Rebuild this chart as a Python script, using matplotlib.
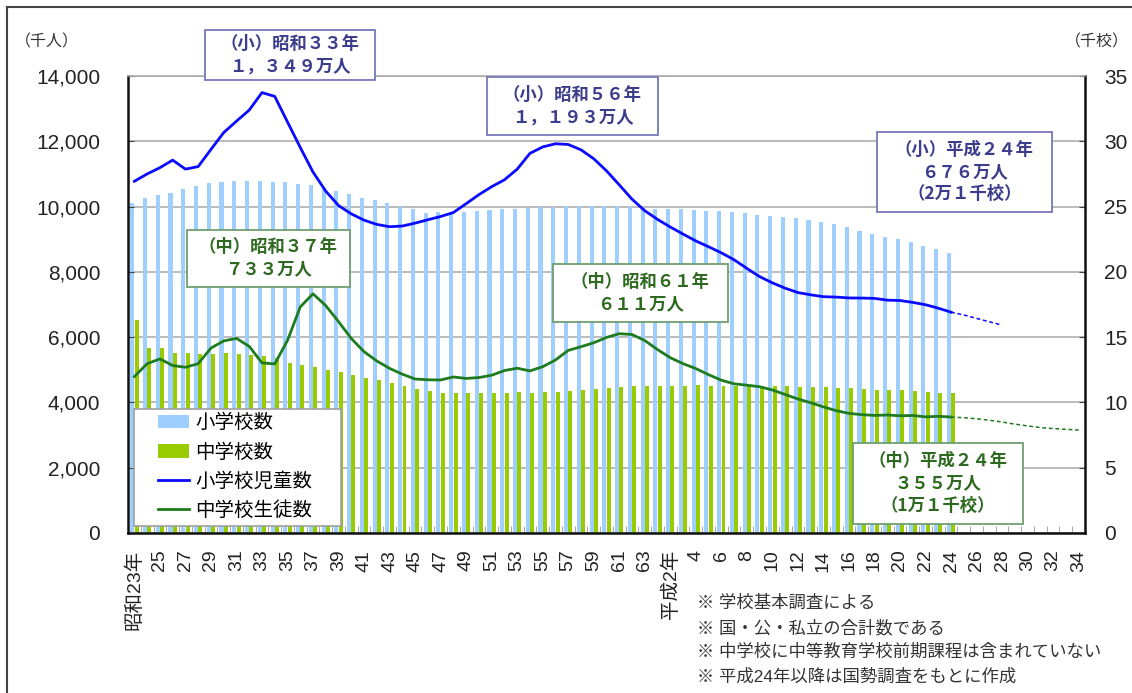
import matplotlib
matplotlib.use("Agg")
import numpy as np
import matplotlib.pyplot as plt
from matplotlib.patches import Patch, Rectangle
from matplotlib.lines import Line2D
from matplotlib.ticker import FuncFormatter

plt.rcParams["font.family"] = ["Liberation Sans", "Noto Sans CJK JP", "DejaVu Sans"]

# 昭和23年(1948) ~ 平成34年(2022)
years = list(range(1948, 2023))
tick_labels = ["昭和23年", "25", "27", "29", "31", "33", "35", "37", "39", "41",
               "43", "45", "47", "49", "51", "53", "55", "57", "59", "61", "63",
               "平成2年", "4", "6", "8", "10", "12", "14", "16", "18", "20", "22",
               "24", "26", "28", "30", "32", "34"]

# 学校数 (千校) 1948-2012
elem_schools = [25.24, 25.64, 25.88, 26.06, 26.38, 26.56, 26.80, 26.88, 26.96, 26.99,
                26.96, 26.92, 26.86, 26.74, 26.62, 26.42, 26.21, 25.98, 25.69, 25.49,
                25.26, 24.99, 24.79, 24.54, 24.62, 24.59, 24.61, 24.65, 24.72, 24.78,
                24.83, 24.90, 24.95, 24.99, 25.04, 25.05, 25.06, 25.04, 25.04, 24.98,
                24.90, 24.85, 24.83, 24.80, 24.73, 24.68, 24.64, 24.55, 24.48, 24.38,
                24.30, 24.19, 24.11, 23.96, 23.81, 23.63, 23.42, 23.12, 22.88, 22.69,
                22.48, 22.26, 22.00, 21.72, 21.46]
jhs_schools = [16.29, 14.20, 14.17, 13.75, 13.75, 13.69, 13.69, 13.77, 13.72, 13.62,
               13.58, 13.37, 12.99, 12.85, 12.69, 12.50, 12.34, 12.08, 11.85, 11.68,
               11.46, 11.28, 11.04, 10.84, 10.75, 10.72, 10.71, 10.75, 10.72, 10.72,
               10.78, 10.75, 10.78, 10.81, 10.88, 10.95, 11.05, 11.13, 11.19, 11.23,
               11.27, 11.26, 11.28, 11.29, 11.30, 11.29, 11.29, 11.27, 11.26, 11.26,
               11.24, 11.22, 11.21, 11.19, 11.16, 11.13, 11.10, 11.04, 10.99, 10.96,
               10.92, 10.86, 10.82, 10.75, 10.70]

# 児童・生徒数 (千人) 1948-2012
elem_students = [10775, 11000, 11191, 11423, 11148, 11225, 11750, 12267, 12616, 12956,
                 13492, 13375, 12591, 11811, 11057, 10471, 10031, 9776, 9584, 9453,
                 9383, 9404, 9493, 9596, 9696, 9817, 10089, 10365, 10609, 10820,
                 11146, 11630, 11827, 11925, 11902, 11739, 11465, 11095, 10665, 10227,
                 9873, 9607, 9373, 9157, 8947, 8769, 8583, 8370, 8106, 7855,
                 7663, 7500, 7366, 7297, 7239, 7227, 7201, 7197, 7188, 7133,
                 7122, 7064, 6993, 6887, 6765]
jhs_students = [4793, 5186, 5333, 5130, 5077, 5187, 5665, 5884, 5963, 5718,
                5210, 5180, 5900, 6926, 7328, 6964, 6476, 5957, 5555, 5270,
                5043, 4865, 4717, 4694, 4688, 4780, 4735, 4762, 4833, 4977,
                5048, 4966, 5094, 5300, 5594, 5706, 5828, 5990, 6106, 6081,
                5896, 5619, 5369, 5188, 5037, 4850, 4681, 4570, 4528, 4481,
                4381, 4244, 4104, 3992, 3863, 3748, 3664, 3626, 3602, 3615,
                3592, 3600, 3558, 3574, 3553]

# 推計 (平成25年以降)
elem_students_est = [6680, 6575, 6470, 6370]
jhs_students_est = [3530, 3500, 3455, 3400, 3335, 3280, 3230, 3200, 3175, 3155]

legend_labels = ["小学校数", "中学校数", "小学校児童数", "中学校生徒数"]
callouts = ["（小）昭和３３年\n１，３４９万人",
            "（小）昭和５６年\n１，１９３万人",
            "（小）平成２４年\n６７６万人\n（2万１千校）",
            "（中）昭和３７年\n７３３万人",
            "（中）昭和６１年\n６１１万人",
            "（中）平成２４年\n３５５万人\n（1万１千校）"]
notes = ["※ 学校基本調査による",
         "※ 国・公・私立の合計数である",
         "※ 中学校に中等教育学校前期課程は含まれていない",
         "※ 平成24年以降は国勢調査をもとに作成"]

W, H = 1132, 693
C_ELEM_BAR = "#9fcfff"
C_JHS_BAR = "#99cc00"
C_ELEM = "#0a0aff"
C_JHS = "#1e7b1e"


def fx(px):
    return px / W


def fy(py):
    return 1 - py / H


fig = plt.figure(figsize=(W / 100, H / 100), dpi=100)
ax = fig.add_axes([fx(128), fy(533), (1085 - 128) / W, (533 - 76) / H])
ax2 = ax.twinx()
ax.set_zorder(ax2.get_zorder() + 1)
ax.patch.set_visible(False)

idx = np.arange(len(elem_schools))
ax2.bar(idx - 0.17, elem_schools, width=0.32, color=C_ELEM_BAR, zorder=2)
ax2.bar(idx + 0.17, jhs_schools, width=0.31, color=C_JHS_BAR, zorder=2)
ax2.set_ylim(0, 35)
ax2.set_yticks(range(0, 36, 5))
ax2.yaxis.grid(True, color="#a8a8a8", lw=1.1)
ax2.set_axisbelow(True)
ax2.tick_params(axis="y", direction="in", length=4, labelsize=15, pad=14,
                colors="#222", color="#444")
for s in ax2.spines.values():
    s.set_visible(False)

# 児童・生徒数の線
ax.plot(idx, elem_students, color=C_ELEM, lw=2.0, zorder=3)
ax.plot(idx, jhs_students, color=C_JHS, lw=2.0, zorder=3)
last = len(elem_students) - 1
ax.plot(np.arange(last, last + len(elem_students_est) + 1),
        [elem_students[-1]] + elem_students_est,
        color=C_ELEM, lw=1.1, ls=(0, (2.5, 1.8)), zorder=3)
ax.plot(np.arange(last, last + len(jhs_students_est) + 1),
        [jhs_students[-1]] + jhs_students_est,
        color=C_JHS, lw=1.1, ls=(0, (2.5, 1.8)), zorder=3)

ax.set_xlim(-0.5, len(years) - 0.5)
ax.set_ylim(0, 14000)
ax.set_yticks(range(0, 14001, 2000))
ax.yaxis.set_major_formatter(FuncFormatter(lambda v, p: f"{int(v):,}"))
ax.tick_params(axis="y", direction="in", length=4, labelsize=15, pad=20,
               colors="#222", color="#444")
ax.set_xticks(range(0, len(years), 2))
ax.set_xticklabels(tick_labels, rotation=90, fontsize=14, color="#222")
ax.set_xticks(np.arange(0.5, len(years) - 1, 1), minor=True)
ax.tick_params(axis="x", which="major", length=0, pad=12)
ax.tick_params(axis="x", which="minor", direction="in", length=5, color="#999")
for side in ["left", "bottom", "right"]:
    ax.spines[side].set_color("#111")
    ax.spines[side].set_linewidth(1.8)
ax.spines["top"].set_color("#a8a8a8")
ax.spines["top"].set_linewidth(1.1)

# 凡例
fig.add_artist(Rectangle((fx(134), fy(526)), (341 - 134) / W, (526 - 409) / H,
                         transform=fig.transFigure, fc="white", ec="#a0a0a0",
                         lw=1.2, zorder=4))
handles = [Patch(fc=C_ELEM_BAR), Patch(fc=C_JHS_BAR),
           Line2D([], [], color=C_ELEM, lw=2), Line2D([], [], color=C_JHS, lw=2)]
fig.legend(handles, legend_labels, loc="upper left",
           bbox_to_anchor=(fx(158), fy(414)), bbox_transform=fig.transFigure,
           frameon=False, fontsize=14, handlelength=1.6, handletextpad=0.3,
           labelspacing=0.55, borderpad=0, borderaxespad=0)

# 吹き出し
boxes = [(205, 30, 375, 80), (487, 77, 658, 135), (877, 132, 1052, 212),
         (187, 230, 350, 287), (553, 264, 728, 322), (853, 443, 1023, 524)]
for i, (txt, (x0, y0, x1, y1)) in enumerate(zip(callouts, boxes)):
    if i < 3:
        ec, tc = "#7777bb", "#3c3c8c"
    else:
        ec, tc = "#6f9f6f", "#2d6a1f"
    fig.add_artist(Rectangle((fx(x0), fy(y1)), (x1 - x0) / W, (y1 - y0) / H,
                             transform=fig.transFigure, fc="white", ec=ec,
                             lw=1.3, zorder=6))
    fig.text(fx((x0 + x1) / 2), fy((y0 + y1) / 2), txt, ha="center",
             va="center", fontsize=12.5, fontweight="bold", color=tc,
             linespacing=1.3, family=["Noto Sans CJK JP", "DejaVu Sans"],
             zorder=7)

fig.text(fx(47), fy(42), "（千人）", ha="center", va="center", fontsize=11.5,
         color="#333")
fig.text(fx(1097), fy(42), "（千校）", ha="center", va="center", fontsize=11.5,
         color="#333")

for i, note in enumerate(notes):
    fig.text(fx(697), fy(603 + 24.5 * i), note, ha="left", va="center",
             fontsize=12.5, color="#333")

# 外枠
fig.add_artist(Line2D([fx(7), 1], [fy(7), fy(7)], transform=fig.transFigure,
                      color="#444", lw=1.5))
fig.add_artist(Line2D([fx(7), fx(7)], [fy(7), 0], transform=fig.transFigure,
                      color="#444", lw=1.5))

fig.savefig("out.png", dpi=100)
